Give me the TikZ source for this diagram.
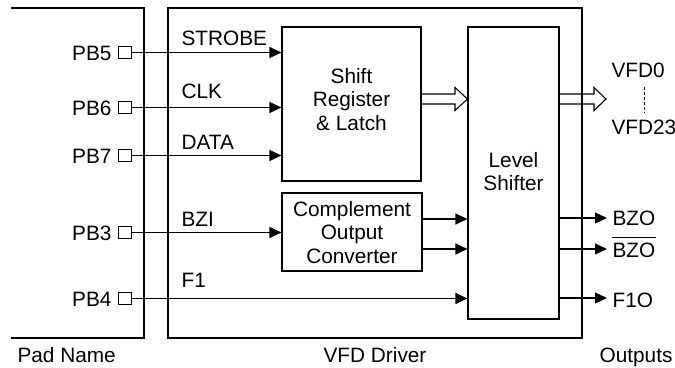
\documentclass[tikz,border=0pt]{standalone}
\usepackage{fontspec}
\setmainfont{Liberation Sans}
\usetikzlibrary{arrows.meta}
\begin{document}
\begin{tikzpicture}[x=1pt,y=-1pt,
  line width=1.1pt,
  every node/.style={font=\fontsize{20.8}{24}\selectfont, inner sep=0pt},
  box/.style={draw, rectangle, inner sep=0pt},
  padsq/.style={draw, rectangle, minimum width=13pt, minimum height=12pt, line width=1pt},
  sig/.style={-{Triangle[length=12pt,width=11pt]}},
  lbl/.style={anchor=base west},
  plbl/.style={anchor=base east},
]
\useasboundingbox (0,0) rectangle (675,367);

% pad box (no left edge)
\coordinate (padtl) at (11,8);
\coordinate (padtr) at (144,8);
\coordinate (padbr) at (144,338);
\coordinate (padbl) at (11,338);
\draw (padtl) -- (padtr) -- (padbr) -- (padbl);

% driver and blocks
\node[box, minimum width=414pt, minimum height=330pt] (drv) at (375,173) {};
\node[box, minimum width=139pt, minimum height=154pt] (sr) at (351.5,104) {};
\node[box, minimum width=140pt, minimum height=78pt] (coc) at (352,232) {};
\node[box, minimum width=91pt, minimum height=292pt] (ls) at (513.5,173) {};

% block texts
\node[anchor=base] (t1) at (351.5,83) {Shift};
\node[anchor=base] (t2) at (351.5,106.5) {Register};
\node[anchor=base] (t3) at (351.5,130) {\& Latch};
\node[anchor=base] (t4) at (352,216) {Complement};
\node[anchor=base] (t5) at (352,239.5) {Output};
\node[anchor=base] (t6) at (352,263) {Converter};
\node[anchor=base] (t7) at (513.5,167) {Level};
\node[anchor=base] (t8) at (513.5,190.5) {Shifter};

% pads
\node[padsq] (p5) at (125,52.5) {};
\node[padsq] (p6) at (125,107.5) {};
\node[padsq] (p7) at (125,155.5) {};
\node[padsq] (p3) at (125,232.5) {};
\node[padsq] (p4) at (125,298.5) {};
\node[plbl] (l5) at (112,60) {PB5};
\node[plbl] (l6) at (112,115) {PB6};
\node[plbl] (l7) at (112,163) {PB7};
\node[plbl] (l3) at (112,240) {PB3};
\node[plbl] (l4) at (112,306) {PB4};

% signal labels
\node[lbl] (s5) at (181,45) {STROBE};
\node[lbl] (s6) at (181,98) {CLK};
\node[lbl] (s7) at (181,149) {DATA};
\node[lbl] (s3) at (181,226) {BZI};
\node[lbl] (s4) at (181,287) {F1};

% input connectors
\draw[sig] (p5.east) -- (sr.west |- p5);
\draw[sig] (p6.east) -- (sr.west |- p6);
\draw[sig] (p7.east) -- (sr.west |- p7);
\draw[sig] (p3.east) -- (coc.west |- p3);
\draw[sig] (p4.east) -- (ls.west |- p4);

% complement to level shifter
\coordinate (c1) at (422,219);
\coordinate (c2) at (422,249);
\draw[sig] (c1) -- (ls.west |- c1);
\draw[sig] (c2) -- (ls.west |- c2);

% hollow bus arrows
\coordinate (b1) at (421,94);
\coordinate (b2) at (421,104);
\draw (b1) -- (455,94) -- (455,87.5) -- (ls.west |- 0,99) -- (455,110.5) -- (455,104) -- (b2);
\coordinate (b3) at (559,94);
\coordinate (b4) at (559,104);
\coordinate (b5) at (606,99);
\draw (b3) -- (594,94) -- (594,87.5) -- (b5) -- (594,110.5) -- (594,104) -- (b4);

% outputs
\node[lbl] (o1) at (612,225) {BZO};
\node[lbl] (o2) at (612,257) {BZO};
\node[lbl] (o3) at (612,307) {F1O};
\draw[line width=1pt] ([yshift=4.5pt]o2.north west) -- ([yshift=4.5pt]o2.north east);
\draw[sig] (ls.east |- 0,218) -- (607,218);
\draw[sig] (ls.east |- 0,249) -- (607,249);
\draw[sig] (ls.east |- 0,298) -- (607,298);

\node[lbl] (v0) at (611,77) {VFD0};
\node[lbl] (v23) at (611,134) {VFD23};
\draw[line width=1pt, dash pattern=on 3pt off 2pt] (644,87) -- (644,113);

% bottom captions
\node[lbl] (cap1) at (17,362) {Pad Name};
\node[anchor=base] (cap2) at (375,362) {VFD Driver};
\node[anchor=base east] (cap3) at (673,362) {Outputs};
\end{tikzpicture}
\end{document}
